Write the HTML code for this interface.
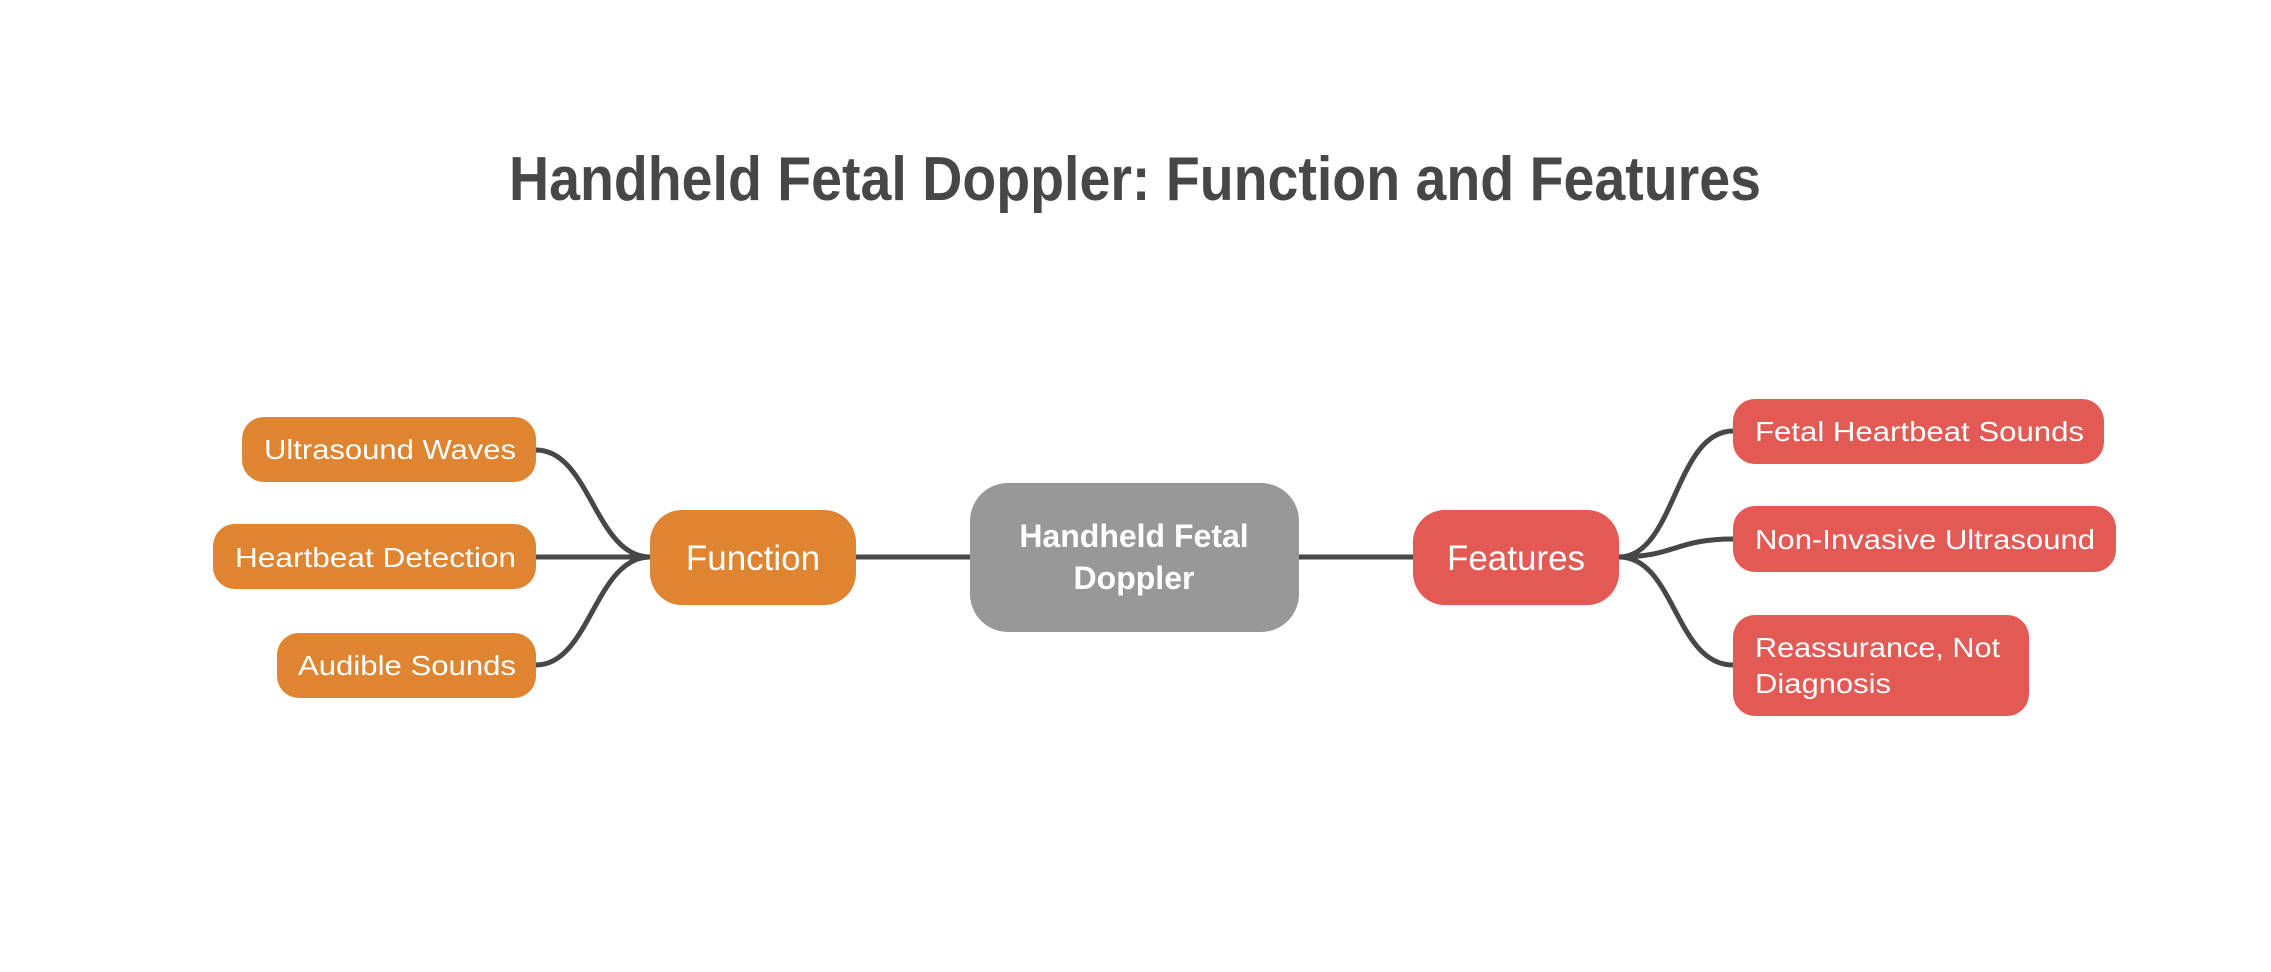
<!DOCTYPE html>
<html><head><meta charset="utf-8"><style>
html,body{margin:0;padding:0;background:#fff;}
svg{display:block;}
text{font-family:"Liberation Sans",sans-serif;fill:#fff;}
</style></head><body>
<svg width="2271" height="972" viewBox="0 0 2271 972" xmlns="http://www.w3.org/2000/svg">
<rect width="2271" height="972" fill="#fff"/>
<text x="509" y="200" font-size="62" font-weight="bold" style="fill:#474747" textLength="1252" lengthAdjust="spacingAndGlyphs">Handheld Fetal Doppler: Function and Features</text>
<g fill="none" stroke="#474747" stroke-width="5" stroke-linecap="round">
<path d="M536 450 C590 450 595 557 650 557"/>
<path d="M536 557 L650 557"/>
<path d="M536 665 C590 665 595 557 650 557"/>
<path d="M856 557 L970 557"/>
<path d="M1299 557 L1413 557"/>
<path d="M1619 557 C1675 557 1675 431 1733 431"/>
<path d="M1619 557 C1675 557 1675 539 1733 539"/>
<path d="M1619 557 C1675 557 1675 665 1733 665"/>
</g>
<rect x="242" y="417" width="294" height="65" rx="22" fill="#DF8430"/>
<rect x="213" y="524" width="323" height="65" rx="22" fill="#DF8430"/>
<rect x="277" y="633" width="259" height="65" rx="22" fill="#DF8430"/>
<rect x="650" y="510" width="206" height="95" rx="32" fill="#DF8430"/>
<rect x="970" y="483" width="329" height="149" rx="38" fill="#989898"/>
<rect x="1413" y="510" width="206" height="95" rx="32" fill="#E35A55"/>
<rect x="1733" y="399" width="371" height="65" rx="22" fill="#E35A55"/>
<rect x="1733" y="506" width="383" height="66" rx="22" fill="#E35A55"/>
<rect x="1733" y="615" width="296" height="101" rx="22" fill="#E35A55"/>
<g font-size="28">
<text x="264" y="459" textLength="252" lengthAdjust="spacingAndGlyphs">Ultrasound Waves</text>
<text x="235" y="567" textLength="281" lengthAdjust="spacingAndGlyphs">Heartbeat Detection</text>
<text x="298" y="675" textLength="218" lengthAdjust="spacingAndGlyphs">Audible Sounds</text>
<text x="1755" y="441" textLength="329" lengthAdjust="spacingAndGlyphs">Fetal Heartbeat Sounds</text>
<text x="1755" y="549" textLength="340" lengthAdjust="spacingAndGlyphs">Non-Invasive Ultrasound</text>
<text x="1755" y="657" textLength="245" lengthAdjust="spacingAndGlyphs">Reassurance, Not</text>
<text x="1755" y="693" textLength="136" lengthAdjust="spacingAndGlyphs">Diagnosis</text>
</g>
<text x="753" y="570" font-size="35" text-anchor="middle">Function</text>
<text x="1516" y="570" font-size="35" text-anchor="middle">Features</text>
<text x="1134" y="547" font-size="32" font-weight="bold" text-anchor="middle">Handheld Fetal</text>
<text x="1134" y="589" font-size="32" font-weight="bold" text-anchor="middle">Doppler</text>
</svg>
</body></html>
